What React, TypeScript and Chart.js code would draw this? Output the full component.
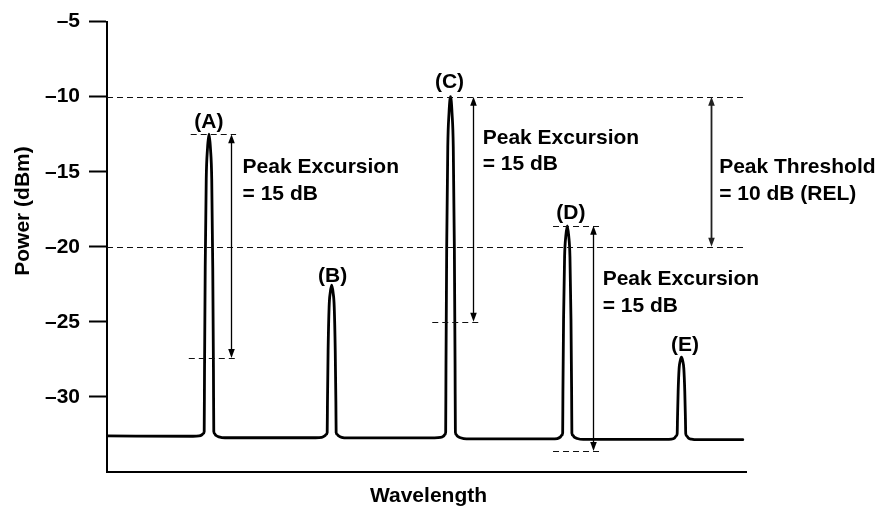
import { useEffect, useRef } from 'react';
import { Chart, registerables } from 'chart.js';

Chart.register(...registerables);

// ---- Data (x in arbitrary wavelength units 0..100, y in dBm) ----
const traceX = [
  0, 13.46, 14.4, 14.86, 15.1, 15.21, 15.26, 15.37, 15.53, 15.72, 15.96, 16.2, 16.39, 16.55, 16.66, 16.71, 16.82, 17.06, 17.52, 18.46,
  32.66, 33.6, 34.06, 34.3, 34.46, 34.5, 34.6, 34.76, 34.94, 35.16, 35.38, 35.56, 35.72, 35.82, 35.86, 36.02, 36.26, 36.72, 37.66,
  51.26, 52.2, 52.66, 52.9, 53.0, 53.05, 53.16, 53.33, 53.52, 53.76, 54.0, 54.19, 54.36, 54.47, 54.52, 54.62, 54.86, 55.32, 56.26,
  69.53, 70.47, 70.93, 71.17, 71.31, 71.35, 71.45, 71.61, 71.8, 72.03, 72.26, 72.45, 72.61, 72.71, 72.75, 72.89, 73.13, 73.59, 74.53,
  87.4, 88.34, 88.8, 89.04, 89.23, 89.28, 89.38, 89.53, 89.7, 89.9, 90.1, 90.27, 90.42, 90.52, 90.57, 90.76, 91.0, 91.46, 92.4, 99.5,
];
const traceY = [
  -32.6, -32.62, -32.6, -32.52, -32.42, -32.3, -28.3, -21.4, -15.5, -13.5, -12.5, -13.5, -15.5, -21.4, -28.3, -32.3, -32.45, -32.57, -32.66, -32.72,
  -32.72, -32.69, -32.6, -32.5, -32.37, -30.4, -26.96, -24.0, -23.04, -22.55, -23.04, -24.0, -26.96, -30.4, -32.37, -32.5, -32.6, -32.69, -32.73,
  -32.73, -32.7, -32.61, -32.5, -32.35, -27.88, -20.06, -13.35, -11.12, -10.0, -11.12, -13.35, -20.06, -27.88, -32.35, -32.5, -32.62, -32.72, -32.8,
  -32.8, -32.77, -32.68, -32.55, -32.4, -29.64, -24.81, -20.67, -19.29, -18.6, -19.29, -20.67, -24.81, -29.64, -32.4, -32.55, -32.68, -32.77, -32.83,
  -32.83, -32.81, -32.74, -32.62, -32.45, -31.43, -29.65, -28.12, -27.6, -27.35, -27.6, -28.12, -29.65, -31.43, -32.45, -32.62, -32.74, -32.81, -32.85, -32.85,
];

// Y axis
const yMin = -35;
const yMax = -5;
const yStep = 5;

// Peak labels
const peakNames = ['(A)', '(B)', '(C)', '(D)', '(E)'];
const peakLabelX = [15.93, 35.3, 53.6, 72.6, 90.45];
const peakLabelY = [-12.09, -22.35, -9.44, -18.15, -26.97];

// Long dashed reference levels (dBm)
const refLevels = [-10, -20];

// Short dashed marks
const markY = [-12.5, -27.4, -25, -18.6, -33.6];
const markX0 = [13.1, 12.8, 50.9, 69.8, 69.8];
const markX1 = [20.2, 20.2, 58.4, 77.2, 77.2];

// Double-headed arrows
const arrowX = [19.4, 57.3, 76.1, 94.5];
const arrowTop = [-12.5, -10, -18.6, -10];
const arrowBottom = [-27.4, -25, -33.6, -20];

// Notes
const noteLines = [
  ['Peak Excursion', '= 15 dB'],
  ['Peak Excursion', '= 15 dB'],
  ['Peak Excursion', '= 15 dB'],
  ['Peak Threshold', '= 10 dB (REL)'],
];
const noteX = [21.22, 58.8, 77.57, 95.8];
const noteY = [-15.11, -13.13, -22.57, -15.11];

const xTitle = 'Wavelength';
const yTitle = 'Power (dBm)';

const FONT = "'Liberation Sans', Arial, Helvetica, sans-serif";

const annotationPlugin = {
  id: 'annotations',
  afterDraw(chart: any) {
    const { ctx, scales, chartArea } = chart;
    const xs = scales.x;
    const ys = scales.y;
    ctx.save();

    // long dashed lines
    ctx.strokeStyle = '#111';
    ctx.lineWidth = 1.2;
    ctx.setLineDash([6, 4]);
    refLevels.forEach((lv) => {
      const py = Math.round(ys.getPixelForValue(lv)) + 0.5;
      ctx.beginPath();
      ctx.moveTo(xs.getPixelForValue(0), py);
      ctx.lineTo(xs.getPixelForValue(100), py);
      ctx.stroke();
    });
    // short marks
    markY.forEach((v, i) => {
      const py = Math.round(ys.getPixelForValue(v)) + 0.5;
      ctx.beginPath();
      ctx.moveTo(xs.getPixelForValue(markX0[i]), py);
      ctx.lineTo(xs.getPixelForValue(markX1[i]), py);
      ctx.stroke();
    });
    ctx.setLineDash([]);

    // arrows
    arrowX.forEach((xv, i) => {
      const px = Math.round(xs.getPixelForValue(xv)) + 0.5;
      const t = ys.getPixelForValue(arrowTop[i]);
      const b = ys.getPixelForValue(arrowBottom[i]);
      const isThreshold = i === 3;
      ctx.strokeStyle = isThreshold ? '#222' : '#000';
      ctx.fillStyle = ctx.strokeStyle;
      ctx.lineWidth = isThreshold ? 1.8 : 1.3;
      const hl = 9;
      const hw = 3.3;
      ctx.beginPath();
      ctx.moveTo(px, t + hl - 1);
      ctx.lineTo(px, b - hl + 1);
      ctx.stroke();
      ctx.beginPath();
      ctx.moveTo(px, t);
      ctx.lineTo(px - hw, t + hl);
      ctx.lineTo(px + hw, t + hl);
      ctx.closePath();
      ctx.fill();
      ctx.beginPath();
      ctx.moveTo(px, b);
      ctx.lineTo(px - hw, b - hl);
      ctx.lineTo(px + hw, b - hl);
      ctx.closePath();
      ctx.fill();
    });

    // texts
    ctx.fillStyle = '#000';
    ctx.font = `bold 21px ${FONT}`;
    ctx.textBaseline = 'alphabetic';
    ctx.textAlign = 'left';
    noteLines.forEach((lines, i) => {
      const px = xs.getPixelForValue(noteX[i]);
      const py = ys.getPixelForValue(noteY[i]);
      lines.forEach((ln, j) => ctx.fillText(ln, px, py + j * 26.5));
    });
    ctx.textAlign = 'center';
    peakNames.forEach((nm, i) => {
      ctx.fillText(nm, xs.getPixelForValue(peakLabelX[i]), ys.getPixelForValue(peakLabelY[i]));
    });

    // axis titles
    ctx.fillText(xTitle, (chartArea.left + chartArea.right) / 2 + 2, 502);
    ctx.save();
    ctx.translate(28.5, 211);
    ctx.rotate(-Math.PI / 2);
    ctx.textAlign = 'center';
    ctx.fillText(yTitle, 0, 0);
    ctx.restore();

    ctx.restore();
  },
};

export default function App() {
  const canvasRef = useRef<HTMLCanvasElement | null>(null);

  useEffect(() => {
    document.body.style.margin = '0';
    const canvas = canvasRef.current;
    if (!canvas) return;
    const chart = new Chart(canvas, {
      type: 'line',
      data: {
        datasets: [
          {
            data: traceX.map((x, i) => ({ x, y: traceY[i] })),
            borderColor: '#000',
            borderWidth: 2.8,
            pointRadius: 0,
            cubicInterpolationMode: 'monotone',
            borderJoinStyle: 'round',
            borderCapStyle: 'round',
            fill: false,
          },
        ],
      },
      options: {
        animation: false,
        responsive: true,
        maintainAspectRatio: false,
        layout: { padding: { top: 19, right: 134, left: 0, bottom: 0 } },
        plugins: {
          legend: { display: false },
          tooltip: { enabled: false },
          title: { display: false },
        },
        scales: {
          x: {
            type: 'linear',
            min: 0,
            max: 100,
            ticks: { display: false },
            grid: { display: false, drawTicks: false },
            border: { display: true, color: '#000', width: 2 },
            afterFit: (s: any) => {
              s.height = 37;
            },
          },
          y: {
            type: 'linear',
            min: yMin,
            max: yMax,
            ticks: {
              stepSize: yStep,
              color: '#000',
              padding: 9,
              font: { family: FONT, size: 21, weight: 'bold' },
              callback: (v: any) => '\u2013' + Math.abs(Number(v)),
            },
            grid: {
              drawOnChartArea: false,
              drawTicks: true,
              tickLength: 18,
              tickWidth: 2,
              tickColor: '#000',
            },
            border: { display: true, color: '#000', width: 2 },
            afterBuildTicks: (s: any) => {
              s.ticks = s.ticks.filter((t: any) => t.value > yMin);
            },
            afterFit: (s: any) => {
              s.width = 107;
            },
          },
        },
      } as any,
      plugins: [annotationPlugin],
    });
    return () => chart.destroy();
  }, []);

  return (
    <div style={{ position: 'absolute', left: 0, top: 0, width: 880, height: 509 }}>
      <canvas ref={canvasRef} />
    </div>
  );
}
